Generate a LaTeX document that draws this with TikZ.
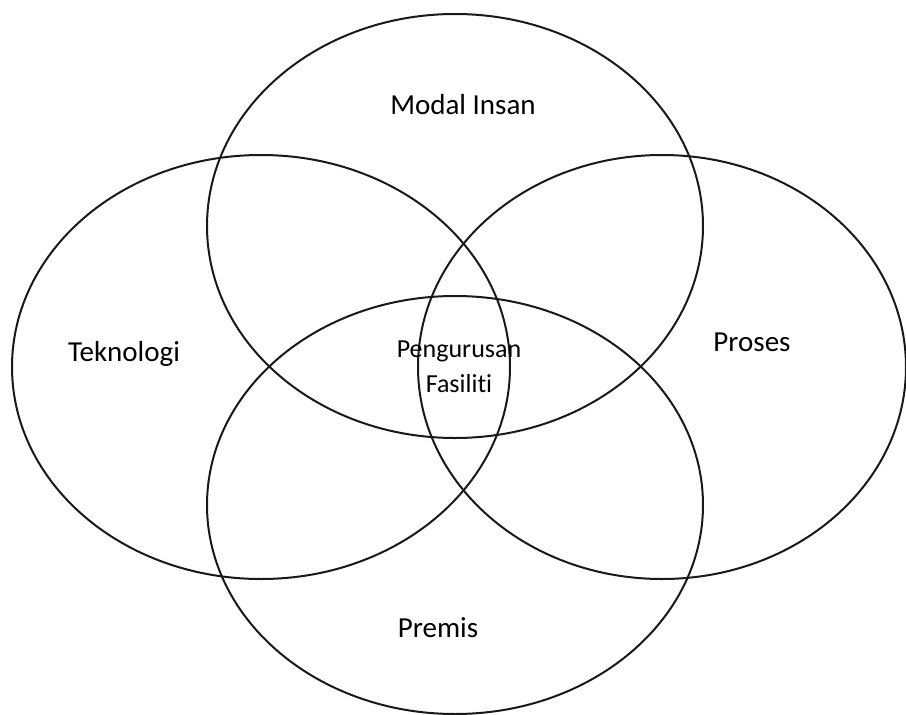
\documentclass[tikz,border=0pt]{standalone}
\usepackage{fontspec}
\setmainfont[Ligatures={NoCommon}]{Carlito}
\begin{document}
\begin{tikzpicture}[x=1pt,y=-1pt,
  ring/.style={draw=black!90, line width=2pt},
  lab/.style={font=\fontsize{29}{34}\selectfont, inner sep=0pt},
  clab/.style={font=\fontsize{26}{35}\selectfont, inner sep=0pt, align=center}]
\useasboundingbox (0,0) rectangle (906,715);
\draw[ring] (455,226) ellipse [x radius=248, y radius=212];
\draw[ring] (261,367) ellipse [x radius=249, y radius=212];
\draw[ring] (662,367) ellipse [x radius=244, y radius=212];
\draw[ring] (455,505) ellipse [x radius=248, y radius=209];
\node[lab] (modal) at (463,105) {Modal Insan};
\node[lab] (tek) at (124,354) {Teknologi};
\node[lab] (proses) at (752,342) {Proses};
\node[lab] (premis) at (438,628) {Premis};
\node[clab] (center) at (459,367) {Pengurusan\\Fasiliti};
\end{tikzpicture}
\end{document}
